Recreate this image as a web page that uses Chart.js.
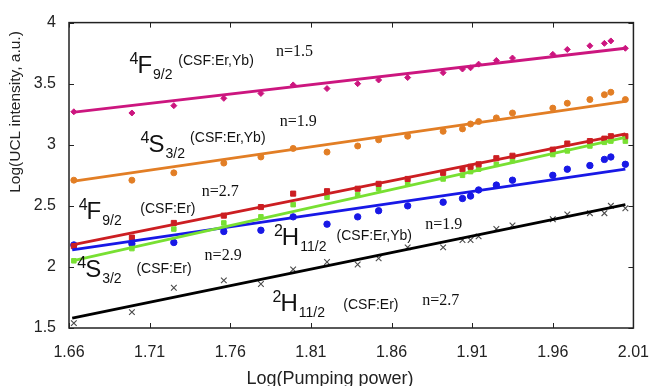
<!DOCTYPE html>
<html>
<head>
<meta charset="utf-8">
<script src="https://cdn.jsdelivr.net/npm/chart.js@4.4.1/dist/chart.umd.min.js"></script>
<style>
  html, body { margin: 0; padding: 0; background: #ffffff; }
  canvas { display: block; }
</style>
</head>
<body>
<canvas id="c" width="664" height="386"></canvas>
<script>
// ---------------- data ----------------
const xTickVals = [1.66, 1.71, 1.76, 1.81, 1.86, 1.91, 1.96, 2.01];
const yTickVals = [1.5, 2, 2.5, 3, 3.5, 4];

// Log(Pumping power) for each measurement
const pumpLog = [1.663, 1.699, 1.725, 1.756, 1.779, 1.799, 1.820, 1.839, 1.852, 1.870, 1.892,
                 1.904, 1.909, 1.914, 1.925, 1.935, 1.960, 1.969, 1.983, 1.992, 1.996, 2.005];

// Log(UCL intensity)
const f92ErYb  = [3.27, 3.26, 3.32, 3.38, 3.42, 3.49, 3.46, 3.50, 3.53, 3.55, 3.59,
                  3.62, 3.63, 3.66, 3.69, 3.71, 3.74, 3.78, 3.81, 3.83, 3.85, 3.79];
const s32ErYb  = [2.71, 2.71, 2.77, 2.85, 2.90, 2.97, 2.94, 2.99, 3.04, 3.07, 3.11,
                  3.13, 3.17, 3.19, 3.22, 3.26, 3.30, 3.34, 3.37, 3.41, 3.43, 3.37];
const f92Er    = [2.17, 2.24, 2.36, 2.42, 2.49, 2.60, 2.62, 2.64, 2.68, 2.72, 2.77,
                  2.80, 2.82, 2.84, 2.89, 2.91, 2.96, 3.01, 3.03, 3.05, 3.07, 3.07];
const s32Er    = [2.05, 2.15, 2.31, 2.36, 2.41, 2.51, 2.57, 2.59, 2.64, 2.68, 2.72,
                  2.75, 2.78, 2.80, 2.84, 2.87, 2.92, 2.95, 2.99, 3.02, 3.03, 3.03];
const h112ErYb = [2.18, 2.19, 2.20, 2.29, 2.30, 2.41, 2.35, 2.41, 2.46, 2.50, 2.53,
                  2.56, 2.58, 2.63, 2.67, 2.71, 2.75, 2.80, 2.83, 2.88, 2.90, 2.84];
const h112Er   = [1.54, 1.63, 1.83, 1.89, 1.86, 1.98, 2.04, 2.02, 2.07, 2.16, 2.16,
                  2.22, 2.22, 2.25, 2.31, 2.34, 2.39, 2.43, 2.44, 2.44, 2.50, 2.48];

// linear fits: [x, y] at both ends
const fitX       = [1.662, 2.005];
const fitF92ErYb = [3.265, 3.79];
const fitS32ErYb = [2.70, 3.355];
const fitF92Er   = [2.18, 3.09];
const fitS32Er   = [2.05, 3.06];
const fitH112ErYb= [2.14, 2.80];
const fitH112Er  = [1.58, 2.51];

// annotation texts
const levelLabels = [
  { sup: '4', main: 'F', sub: '9/2',  host: '(CSF:Er,Yb)', n: 'n=1.5' },
  { sup: '4', main: 'S', sub: '3/2',  host: '(CSF:Er,Yb)', n: 'n=1.9' },
  { sup: '4', main: 'F', sub: '9/2',  host: '(CSF:Er)',    n: 'n=2.7' },
  { sup: '4', main: 'S', sub: '3/2',  host: '(CSF:Er)',    n: 'n=2.9' },
  { sup: '2', main: 'H', sub: '11/2', host: '(CSF:Er,Yb)', n: 'n=1.9' },
  { sup: '2', main: 'H', sub: '11/2', host: '(CSF:Er)',    n: 'n=2.7' }
];
// anchor positions in data units: [level x,y], [host x,y], [n x,y]
const labelLevelAt = [[1.7024, 3.585], [1.7093, 2.938], [1.6709, 2.395], [1.6700, 1.915], [1.7920, 2.179], [1.7911, 1.636]];
const labelHostAt  = [[1.7278, 3.649], [1.7351, 3.026], [1.7042, 2.443], [1.7018, 1.947], [1.8259, 2.219], [1.8301, 1.652]];
const labelNAt     = [[1.7883, 3.728], [1.7907, 3.153], [1.7423, 2.578], [1.7441, 2.059], [1.8809, 2.307], [1.8791, 1.692]];

const xTitle = 'Log(Pumping power)';
const yTitle = 'Log(UCL intensity, a.u.)';

// ---------------- helpers ----------------
const pts = (xs, ys) => xs.map((x, i) => ({ x: x, y: ys[i] }));
const SANS = '"Liberation Sans", Arial, sans-serif';
const SERIF = '"Liberation Serif", "Times New Roman", serif';

function scatterSet(label, ys, color, style, radius, bw) {
  return {
    type: 'scatter', label: label, data: pts(pumpLog, ys), showLine: false,
    pointStyle: style, pointRadius: radius, pointBorderWidth: bw,
    backgroundColor: color, borderColor: color, order: 2
  };
}
function fitSet(label, ys, color) {
  return {
    type: 'line', label: label, data: pts(fitX, ys), showLine: true,
    borderColor: color, borderWidth: 2.8, pointRadius: 0, fill: false,
    tension: 0, order: 1
  };
}

const C = {
  pink: '#CC167F', orange: '#E27E25', red: '#CC1E22',
  green: '#78E032', blue: '#1818E6', black: '#000000', cross: '#4a4a4a'
};

const decorPlugin = {
  id: 'decor',
  afterDatasetsDraw(chart) {
    const ctx = chart.ctx;
    const a = chart.chartArea;
    const xs = chart.scales.x, ys = chart.scales.y;
    ctx.save();
    // frame
    ctx.strokeStyle = '#222';
    ctx.lineWidth = 1.5;
    ctx.strokeRect(a.left, a.top, a.right - a.left, a.bottom - a.top);
    // inward ticks on all sides
    const tl = 5;
    ctx.beginPath();
    xs.ticks.forEach(t => {
      const px = Math.round(xs.getPixelForValue(t.value)) + 0.5;
      ctx.moveTo(px, a.bottom); ctx.lineTo(px, a.bottom - tl);
      ctx.moveTo(px, a.top);    ctx.lineTo(px, a.top + tl);
    });
    ys.ticks.forEach(t => {
      const py = Math.round(ys.getPixelForValue(t.value)) + 0.5;
      ctx.moveTo(a.left, py);  ctx.lineTo(a.left + tl, py);
      ctx.moveTo(a.right, py); ctx.lineTo(a.right - tl, py);
    });
    ctx.lineWidth = 1;
    ctx.stroke();

    // annotations
    ctx.fillStyle = '#111';
    ctx.textBaseline = 'alphabetic';
    levelLabels.forEach((L, i) => {
      const lx = xs.getPixelForValue(labelLevelAt[i][0]);
      const ly = ys.getPixelForValue(labelLevelAt[i][1]);
      ctx.font = '24px ' + SANS;
      ctx.textAlign = 'left';
      ctx.fillText(L.main, lx, ly);
      const mw = ctx.measureText(L.main).width;
      ctx.font = '16px ' + SANS;
      ctx.textAlign = 'right';
      ctx.fillText(L.sup, lx + 1, ly - 9);
      ctx.font = '14px ' + SANS;
      ctx.textAlign = 'left';
      ctx.fillText(L.sub, lx + mw + 1, ly + 6);
      // host
      ctx.font = '14px ' + SANS;
      ctx.fillText(L.host, xs.getPixelForValue(labelHostAt[i][0]), ys.getPixelForValue(labelHostAt[i][1]));
      // slope
      ctx.font = '16px ' + SERIF;
      ctx.fillText(L.n, xs.getPixelForValue(labelNAt[i][0]), ys.getPixelForValue(labelNAt[i][1]));
    });

    // axis titles
    ctx.fillStyle = '#222';
    ctx.font = '18px ' + SANS;
    ctx.textAlign = 'center';
    ctx.fillText(xTitle, 330, 384);
    ctx.save();
    ctx.translate(20, 112);
    ctx.rotate(-Math.PI / 2);
    ctx.font = '15.5px ' + SANS;
    ctx.textAlign = 'center';
    ctx.fillText(yTitle, 0, 0);
    ctx.restore();
    ctx.restore();
  }
};

new Chart(document.getElementById('c'), {
  type: 'scatter',
  data: {
    datasets: [
      fitSet('fit 4F9/2 Er,Yb', fitF92ErYb, C.pink),
      fitSet('fit 4S3/2 Er,Yb', fitS32ErYb, C.orange),
      fitSet('fit 4F9/2 Er', fitF92Er, C.red),
      fitSet('fit 4S3/2 Er', fitS32Er, C.green),
      fitSet('fit 2H11/2 Er,Yb', fitH112ErYb, C.blue),
      fitSet('fit 2H11/2 Er', fitH112Er, C.black),
      scatterSet('4F9/2 (CSF:Er,Yb)', f92ErYb, C.pink, 'rectRot', 3.0, 1),
      scatterSet('4S3/2 (CSF:Er,Yb)', s32ErYb, C.orange, 'circle', 3.0, 1),
      scatterSet('4F9/2 (CSF:Er)', f92Er, C.red, 'rect', 3.6, 1),
      scatterSet('4S3/2 (CSF:Er)', s32Er, C.green, 'rect', 3.2, 1),
      scatterSet('2H11/2 (CSF:Er,Yb)', h112ErYb, C.blue, 'circle', 3.2, 1),
      scatterSet('2H11/2 (CSF:Er)', h112Er, C.cross, 'crossRot', 4, 1.1)
    ]
  },
  options: {
    responsive: false,
    devicePixelRatio: 1,
    animation: false,
    layout: { padding: { top: 15, right: 17, left: 0, bottom: 0 } },
    plugins: { legend: { display: false }, tooltip: { enabled: false } },
    scales: {
      x: {
        type: 'linear', min: 1.66, max: 2.01,
        afterBuildTicks: s => { s.ticks = xTickVals.map(v => ({ value: v })); },
        afterFit: s => { s.height = 58; },
        grid: { display: false, drawTicks: false },
        border: { display: false },
        ticks: {
          autoSkip: false, maxRotation: 0, padding: 15, color: '#222',
          font: { family: SANS, size: 16 },
          callback: v => Number(v).toFixed(2)
        }
      },
      y: {
        type: 'linear', min: 1.5, max: 4,
        afterBuildTicks: s => { s.ticks = yTickVals.map(v => ({ value: v })); },
        afterFit: s => { s.width = 69; },
        grid: { display: false, drawTicks: false },
        border: { display: false },
        ticks: {
          autoSkip: false, padding: 13, color: '#222',
          font: { family: SANS, size: 16 },
          callback: v => String(v)
        }
      }
    }
  },
  plugins: [decorPlugin]
});
</script>
</body>
</html>
